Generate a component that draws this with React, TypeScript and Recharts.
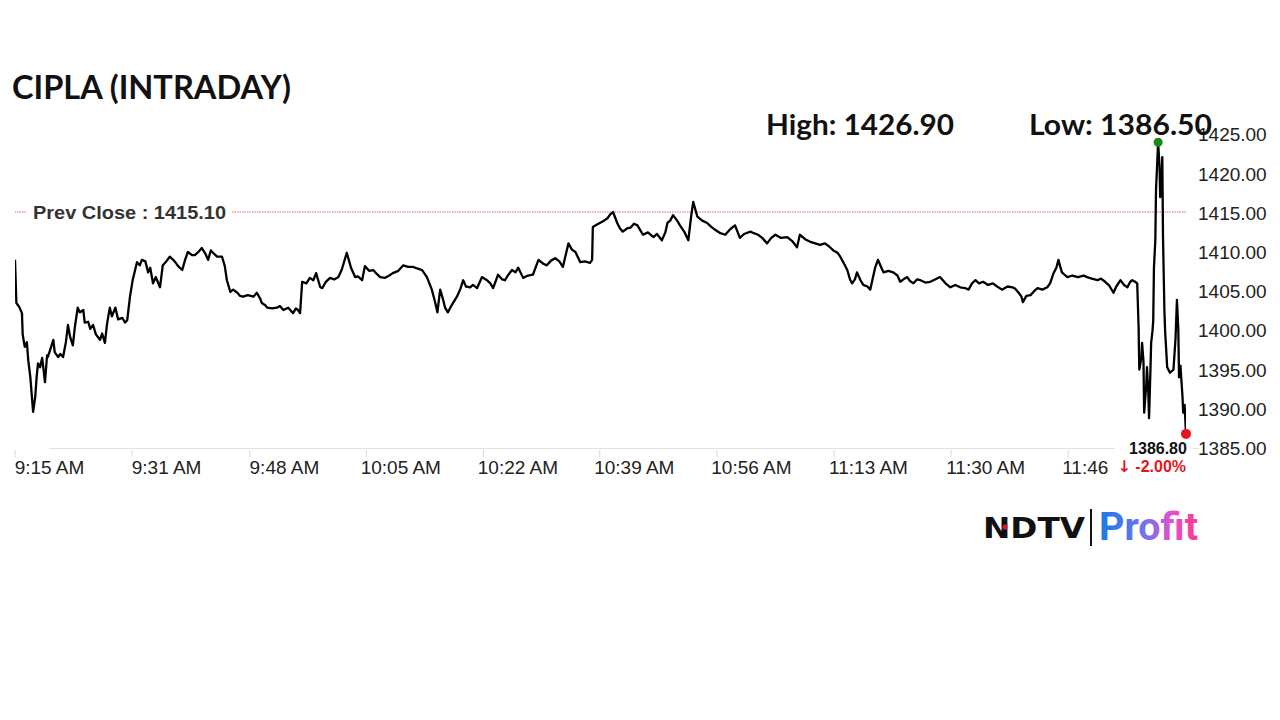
import React from 'react';
import { LineChart, Line, XAxis, YAxis, ReferenceLine, ReferenceDot } from 'recharts';

// minutes since 9:15 AM
const minutes = [
  0.0,0.2,0.6,1.0,1.1,1.4,1.7,1.9,2.2,2.6,
  2.9,3.1,3.3,3.6,3.9,4.3,4.6,4.7,5.0,5.5,
  5.7,6.2,6.5,6.9,7.3,7.6,7.9,8.3,8.6,9.0,
  9.3,9.8,10.0,10.5,10.8,11.2,11.6,12.2,12.5,12.9,
  13.2,13.6,13.9,14.4,14.8,15.4,15.8,16.1,16.5,16.9,
  17.5,17.9,18.2,18.7,19.1,19.4,19.8,20.2,20.8,21.2,
  21.7,22.2,22.7,23.0,23.4,24.0,24.4,24.8,25.4,25.8,
  26.3,26.8,27.3,27.7,28.1,28.4,29.0,29.7,30.1,30.4,
  30.9,31.3,31.9,32.3,32.7,33.4,34.2,34.7,35.2,35.4,
  35.9,36.2,36.9,37.6,38.0,38.5,39.2,39.9,40.3,40.6,
  40.9,41.2,41.8,42.3,42.8,43.2,43.8,
  44.1,44.6,45.2,45.8,46.4,46.9,47.6,48.2,48.8,49.2,
  49.8,50.2,50.8,51.4,51.9,52.4,53.1,53.7,54.2,55.0,
  55.7,56.4,57.1,57.7,58.4,59.1,59.8,60.3,60.6,61.0,
  61.4,61.7,62.1,62.7,63.4,63.9,64.3,64.7,65.3,65.7,
  66.3,67.0,67.7,68.2,68.6,69.3,69.9,70.3,70.7,71.3,
  71.8,72.2,72.9,73.6,74.3,75.1,75.8,76.3,76.9,77.5,
  78.1,78.6,79.4,79.9,80.4,81.1,81.8,82.5,82.8,82.9,
  83.5,83.9,84.5,85.0,85.4,85.8,86.4,86.8,87.2,87.8,
  88.3,88.8,89.3,89.7,90.1,90.8,91.6,92.1,92.8,93.3,
  93.6,94.0,94.4,95.0,95.4,96.0,96.6,97.0,97.3,97.9,
  98.6,99.3,99.9,100.5,101.2,101.9,102.6,103.3,104.0,104.6,
  105.5,106.0,106.6,107.2,107.9,108.5,109.1,109.9,110.8,111.5,
  112.2,112.6,113.4,114.1,114.8,115.5,116.2,116.8,117.4,118.0,
  118.4,119.0,119.4,119.8,120.1,120.5,120.8,121.3,121.7,122.3,
  122.7,123.1,123.4,123.8,124.3,124.6,125.3,126.0,126.6,127.0,
  127.6,128.0,128.4,128.9,129.4,129.9,130.6,131.3,132.0,132.7,
  133.5,134.2,134.9,135.6,136.3,136.8,137.3,137.8,138.3,138.9,
  139.6,140.3,140.9,141.6,142.4,143.1,143.5,143.9,144.4,144.6,
  145.1,145.7,146.2,146.7,147.4,148.1,148.5,149.0,149.4,149.7,
  150.0,150.2,150.7,151.0,151.7,152.5,153.3,153.8,154.5,155.3,
  155.8,156.4,157.0,157.6,158.0,158.6,159.1,159.6,160.0,160.3,
  160.7,161.0,161.2,161.3,161.6,161.7,161.9,162.0,162.3,162.4,
  162.6,162.7,162.9,163.0,163.2,163.3,163.4,163.6,163.7,164.0,
  164.2,164.3,164.5,164.6,164.7,164.9,165.0,165.3,165.7,166.2,
  166.5,166.7,166.9,167.0,167.2,167.5,167.6,167.8,168.0,
];

const prices = [
  1409.0,1403.5,1403.0,1402.2,1399.5,1397.9,1398.5,1396.2,1394.0,1389.6,
  1391.5,1394.0,1395.8,1395.3,1396.5,1393.4,1396.8,1396.6,1397.4,1398.8,
  1397.2,1396.6,1397.0,1396.6,1398.5,1400.7,1399.2,1398.1,1400.5,1402.9,
  1402.3,1402.6,1401.0,1401.1,1400.2,1400.7,1399.5,1398.8,1399.6,1398.4,
  1400.8,1402.9,1401.8,1402.9,1401.4,1401.6,1401.0,1401.3,1404.3,1406.5,
  1408.7,1408.3,1409.0,1408.8,1407.4,1408.0,1406.0,1406.8,1405.5,1408.3,
  1408.8,1409.4,1409.0,1408.7,1408.2,1407.7,1409.0,1410.0,1409.6,1409.6,
  1410.0,1410.5,1409.8,1409.0,1410.2,1409.9,1409.4,1409.4,1408.2,1406.4,
  1404.9,1405.2,1404.8,1404.4,1404.3,1404.5,1404.3,1404.8,1404.0,1403.5,
  1403.2,1402.9,1402.8,1402.9,1403.1,1402.6,1402.9,1402.2,1402.8,1402.6,
  1402.2,1406.2,1406.0,1406.7,1406.4,1407.3,1405.5,
  1405.4,1406.2,1406.7,1406.5,1406.8,1407.8,1409.9,1408.0,1406.8,1406.9,
  1406.4,1408.2,1407.6,1407.7,1407.2,1406.8,1406.7,1407.0,1407.3,1407.6,
  1408.3,1408.1,1408.1,1407.9,1407.7,1406.8,1405.2,1403.5,1402.3,1405.2,
  1404.0,1402.9,1402.3,1403.3,1404.3,1405.3,1406.4,1405.6,1405.5,1405.8,
  1405.4,1406.8,1406.4,1406.0,1405.4,1407.1,1406.5,1406.4,1407.0,1407.7,
  1407.4,1408.0,1406.7,1407.0,1407.1,1409.0,1408.5,1408.3,1408.9,1409.2,
  1408.8,1408.1,1411.1,1410.3,1410.0,1408.7,1408.8,1408.6,1409.0,1413.2,
  1413.5,1413.7,1414.0,1414.3,1414.8,1415.1,1413.7,1413.0,1412.6,1413.0,
  1413.1,1413.6,1413.4,1412.8,1412.2,1412.5,1411.9,1412.3,1411.5,1412.5,
  1413.7,1414.0,1414.7,1414.0,1413.4,1412.6,1411.5,1414.5,1416.4,1414.5,
  1414.0,1413.7,1413.2,1412.8,1412.4,1412.2,1412.9,1413.4,1411.8,1412.3,
  1412.6,1412.4,1412.2,1411.8,1411.1,1411.8,1412.2,1411.8,1411.9,1411.4,
  1410.6,1412.2,1411.6,1411.3,1411.1,1410.9,1411.1,1410.7,1410.2,1409.9,
  1409.4,1408.4,1407.7,1406.5,1406.0,1406.5,1407.4,1406.4,1405.8,1405.6,
  1405.2,1406.8,1408.0,1409.0,1408.0,1407.4,1407.6,1407.4,1407.0,1406.2,
  1406.6,1406.8,1406.3,1406.0,1406.5,1406.4,1406.1,1406.2,1406.5,1406.8,
  1406.0,1405.5,1405.8,1405.5,1405.4,1405.2,1406.0,1406.4,1406.0,1406.2,
  1405.8,1406.0,1405.6,1405.2,1405.6,1405.5,1405.3,1404.9,1404.3,1403.6,
  1404.4,1404.5,1405.0,1405.4,1405.2,1405.5,1406.0,1407.3,1408.0,1409.0,
  1408.0,1407.4,1407.0,1406.8,1407.0,1406.8,1407.0,1406.8,1406.6,1406.4,
  1406.6,1406.2,1405.7,1404.8,1405.6,1406.4,1405.8,1405.5,1406.2,1406.4,
  1406.2,1406.0,1400.4,1395.0,1396.5,1398.4,1396.0,1389.5,1393.0,1395.3,
  1392.0,1388.8,1395.0,1398.4,1400.0,1401.3,1408.0,1411.5,1418.0,1424.0,
  1421.0,1417.0,1419.0,1422.1,1412.0,1402.6,1400.0,1395.3,1394.6,1395.0,
  1399.0,1403.9,1400.0,1394.0,1395.5,1391.5,1389.5,1390.5,1386.8,
];

const tickMinutes = [0, 16.8, 33.7, 50.4, 67.2, 83.9, 100.7, 117.5, 134.3, 151.1];
// the last tick label is partly hidden behind the price badge in the source chart
const tickLabels = ['9:15 AM', '9:31 AM', '9:48 AM', '10:05 AM', '10:22 AM', '10:39 AM', '10:56 AM', '11:13 AM', '11:30 AM', '11:46'];
const yTicks = [1385, 1390, 1395, 1400, 1405, 1410, 1415, 1420, 1425];

const prevClose = 1415.1;
const dayHigh = 1426.9;
const dayLow = 1386.5;
const changePct = -2.0;

const data = minutes.map((t, i) => ({ t, p: prices[i] }));
const hiIdx = prices.indexOf(Math.max(...prices));
const last = data[data.length - 1];

const AX_FONT = '"Liberation Sans", Arial, sans-serif';

const XTick = (props: any) => {
  const { x, y, payload } = props;
  const idx = tickMinutes.indexOf(payload.value);
  const label = tickLabels[idx] ?? '';
  const isShort = idx === tickLabels.length - 1;
  return (
    <g>
      <line x1={x} x2={x} y1={y + 2} y2={y + 9} stroke="#d9d9d9" strokeWidth={1} />
      <text
        x={isShort ? x - 6 : x + 34.5}
        y={y + 26}
        textAnchor={isShort ? 'start' : 'middle'}
        fontSize={19}
        fontFamily={AX_FONT}
        fill="#222"
      >
        {label}
      </text>
    </g>
  );
};

const YTick = (props: any) => {
  const { x, y, payload } = props;
  return (
    <text x={x + 12} y={y + 7} textAnchor="start" fontSize={19} fontFamily={AX_FONT} fill="#222">
      {Number(payload.value).toFixed(2)}
    </text>
  );
};

const PrevLabel = (props: any) => {
  const vb = props.viewBox || {};
  const x = vb.x ?? 0;
  const y = vb.y ?? 0;
  return (
    <g>
      <rect x={x + 12} y={y - 13} width={205} height={26} fill="#fff" />
      <text x={x + 18} y={y + 7} fontSize={19} fontWeight="bold" fontFamily={AX_FONT} fill="#333" textLength={193} lengthAdjust="spacingAndGlyphs">
        {`Prev Close : ${prevClose.toFixed(2)}`}
      </text>
    </g>
  );
};

const EndLabel = (props: any) => {
  const vb = props.viewBox || {};
  const cx = (vb.x ?? 0) + (vb.width ?? 0) / 2;
  const cy = (vb.y ?? 0) + (vb.height ?? 0) / 2;
  return (
    <g>
      <rect x={cx - 71} y={cy + 6} width={78} height={38} fill="#fff" />
      <text x={cx - 28} y={cy + 20} textAnchor="middle" fontSize={16} fontWeight="bold" fontFamily={AX_FONT} fill="#111">
        {last.p.toFixed(2)}
      </text>
      <text x={cx} y={cy + 38} textAnchor="end" fontSize={16} fontWeight="bold" fontFamily={AX_FONT} fill="#e3161d">
        <tspan fontFamily="'DejaVu Sans', sans-serif" fontWeight="bold" fontSize={16}>{'\u2193'}</tspan>
        {` ${changePct.toFixed(2)}%`}
      </text>
    </g>
  );
};

export default function App() {
  return (
    <div style={{ position: 'absolute', left: 0, top: 0, width: 1280, height: 720, background: '#fff', overflow: 'hidden' }}>
      <div style={{ position: 'absolute', left: 49, top: 448, width: 1150, height: 1, background: '#e2e2e2' }} />
      <LineChart width={1280} height={720} data={data} margin={{ top: 134.4, right: 0, bottom: 242, left: 15 }}>
        <XAxis
          dataKey="t"
          type="number"
          domain={[0, 168]}
          ticks={tickMinutes}
          interval={0}
          height={30}
          axisLine={false}
          tickLine={false}
          tickSize={0}
          tickMargin={0}
          tick={(p: any) => <XTick {...p} />}
          allowDataOverflow
        />
        <YAxis
          orientation="right"
          width={94}
          domain={[1385, 1425]}
          ticks={yTicks}
          interval={0}
          axisLine={false}
          tickLine={false}
          tickSize={0}
          tickMargin={0}
          tick={(p: any) => <YTick {...p} />}
          allowDataOverflow
        />
        <ReferenceLine
          y={prevClose}
          stroke="#f06060"
          strokeWidth={1}
          strokeDasharray="1.5 1"
          label={(p: any) => <PrevLabel {...p} />}
        />
        <Line
          type="linear"
          dataKey="p"
          stroke="#000"
          strokeWidth={2.3}
          strokeLinejoin="round"
          dot={false}
          isAnimationActive={false}
        />
        <ReferenceDot x={data[hiIdx].t} y={data[hiIdx].p} r={4.5} fill="#178a17" stroke="none" />
        <ReferenceDot
          x={last.t}
          y={last.p}
          r={5}
          fill="#e8141b"
          stroke="none"
          label={(p: any) => <EndLabel {...p} />}
        />
      </LineChart>
      <svg width={1280} height={720} style={{ position: 'absolute', left: 0, top: 0, pointerEvents: 'none' }}>
        <defs>
          <linearGradient id="profitGrad" x1="0" y1="0" x2="1" y2="0">
            <stop offset="0%" stopColor="#1a7be6" />
            <stop offset="45%" stopColor="#6f74ee" />
            <stop offset="75%" stopColor="#e44fd0" />
            <stop offset="100%" stopColor="#ff3a8a" />
          </linearGradient>
        </defs>
        <text x={12} y={99} fontFamily="Lato, 'Open Sans', sans-serif" fontWeight={700} fontSize={32} fill="#111" textLength={279} lengthAdjust="spacingAndGlyphs">
          CIPLA (INTRADAY)
        </text>
        <text x={766} y={135} fontFamily="Lato, 'Open Sans', sans-serif" fontWeight={700} fontSize={29} fill="#111" textLength={188} lengthAdjust="spacingAndGlyphs">
          {`High: ${dayHigh.toFixed(2)}`}
        </text>
        <text x={1029} y={135} fontFamily="Lato, 'Open Sans', sans-serif" fontWeight={700} fontSize={29} fill="#111" textLength={183} lengthAdjust="spacingAndGlyphs">
          {`Low: ${dayLow.toFixed(2)}`}
        </text>
        <text x={983} y={538} fontFamily="'DejaVu Sans', sans-serif" fontWeight={700} fontSize={29} fill="#111" textLength={102} lengthAdjust="spacingAndGlyphs">
          NDTV
        </text>
        <circle cx={1005} cy={527} r={2.6} fill="#e3161d" />
        <line x1={1091} x2={1091} y1={509} y2={546} stroke="#111" strokeWidth={2} />
        <text x={1099} y={540} fontFamily="Roboto, 'Open Sans', sans-serif" fontWeight={700} fontSize={38} fill="url(#profitGrad)" textLength={99} lengthAdjust="spacingAndGlyphs">
          Profit
        </text>
      </svg>
    </div>
  );
}
